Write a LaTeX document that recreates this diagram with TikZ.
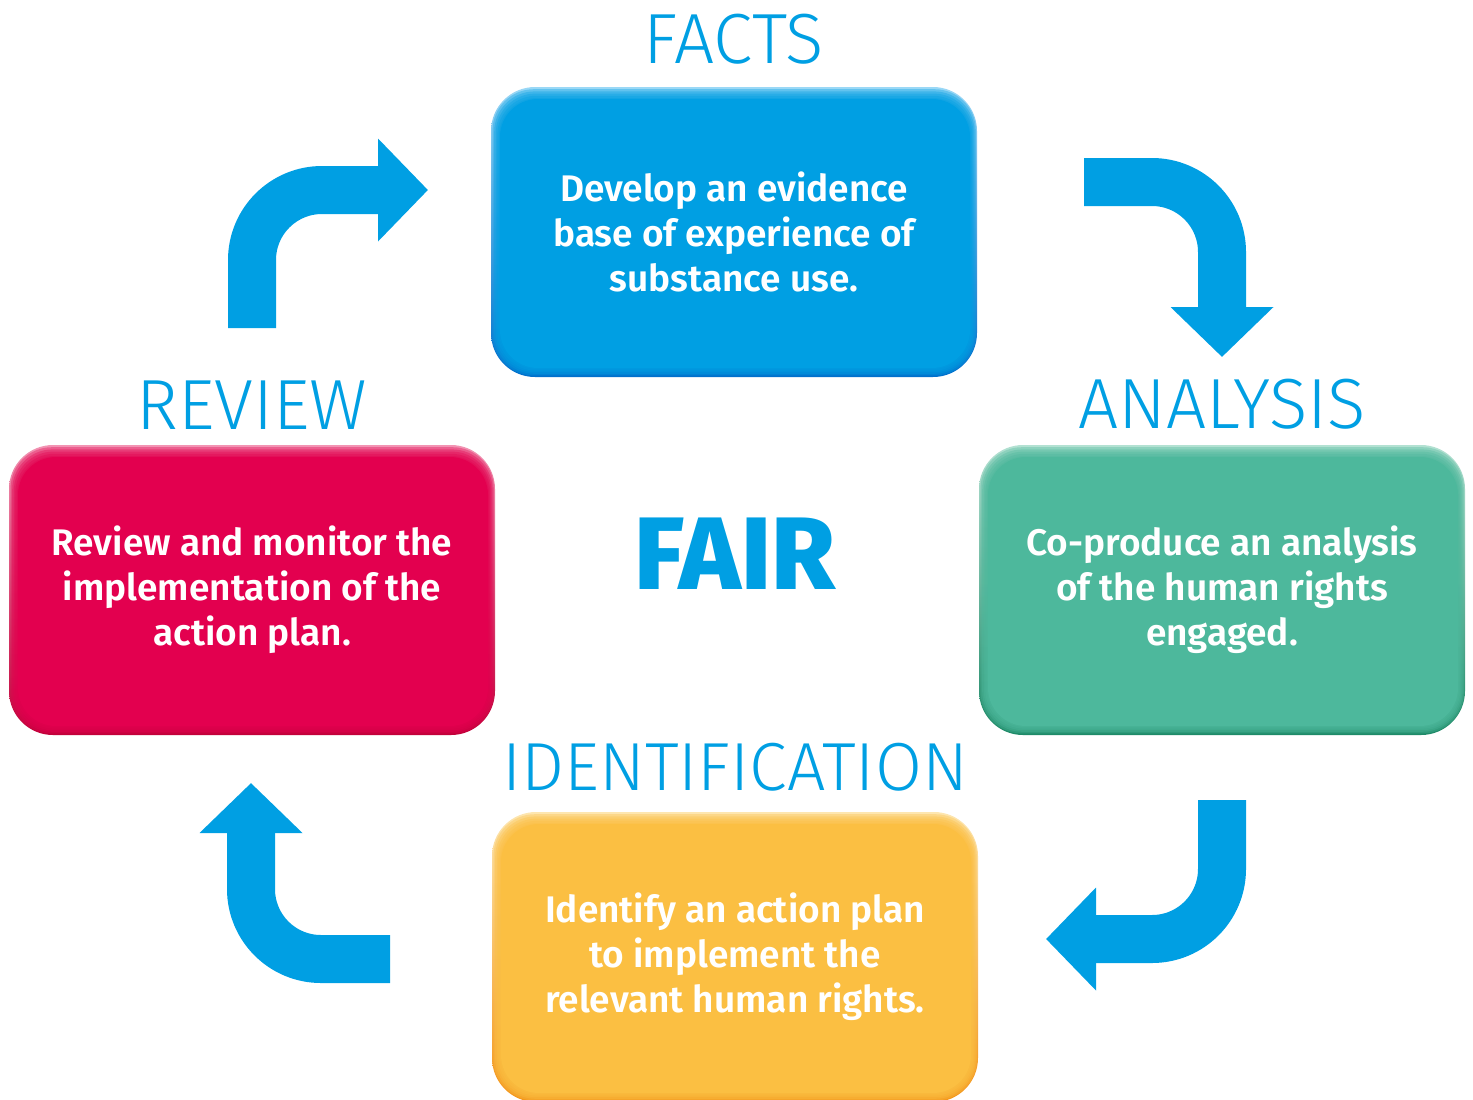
\documentclass[tikz,border=0pt]{standalone}
\usepackage{fontspec}
\setmainfont{Fira Sans}
\newfontfamily\lightfont{Fira Sans Light}
\newfontfamily\semifont{Fira Sans SemiBold}
\newfontfamily\heavyfont{Fira Sans ExtraBold}
\usepackage{tikz}
\usetikzlibrary{arrows.meta,positioning}
\definecolor{Blue}{HTML}{009FE3}
\definecolor{BlueLight}{HTML}{9AD8F6}
\definecolor{BlueDark}{HTML}{0070CC}
\definecolor{Red}{HTML}{E3004F}
\definecolor{RedLight}{HTML}{F294B3}
\definecolor{RedDark}{HTML}{C2003A}
\definecolor{Green}{HTML}{4DB89C}
\definecolor{GreenLight}{HTML}{B3E1D2}
\definecolor{GreenDark}{HTML}{1E8A68}
\definecolor{Yellow}{HTML}{FBBF42}
\definecolor{YellowLight}{HTML}{FDE6B0}
\definecolor{YellowDark}{HTML}{F3961A}
\tikzset{card/.style={rounded corners=22pt,minimum width=243pt,minimum height=145pt,align=center,text=white,font=\semifont\fontsize{18.5}{22.5}\selectfont,top color=#1Light,middle color=#1,bottom color=#1Dark,path picture={\foreach \d in {1,...,5}{\fill[#1,opacity=.35,rounded corners=21pt-\d*0.4pt]([xshift=\d*0.8pt,yshift=-\d*1.1pt]path picture bounding box.north west) rectangle ([xshift=-\d*0.6pt,yshift=\d*0.8pt]path picture bounding box.south east);}\fill[#1,rounded corners=19pt]([xshift=4.5pt,yshift=-6pt]path picture bounding box.north west) rectangle ([xshift=-3.5pt,yshift=4.5pt]path picture bounding box.south east);}},title/.style={font=\lightfont\fontsize{35.5}{35.5}\selectfont,text=Blue,inner sep=0pt},turn/.style={line width=24pt,draw=Blue,rounded corners=35pt,-{Triangle[length=25pt,width=50pt]}}}

\begin{document}
\begin{tikzpicture}[x=0.5pt,y=-0.5pt]
  \useasboundingbox (0,0) rectangle (1473,1099);
  \node[card=Blue](facts) at (734,232){Develop an evidence\\base of experience of\\substance use.};
  \node[card=Red](review) at (252,590){Review and monitor the\\implementation of the\\action plan.};
  \node[card=Green](analysis) at (1222,590){Co-produce an analysis\\of the human rights\\engaged.};
  \node[card=Yellow](ident) at (735,957){Identify an action plan\\to implement the\\relevant human rights.};
  \node[title,above=11pt of facts](t-facts){FACTS};
  \node[title,above=7.5pt of review](t-review){REVIEW};
  \node[title,above=7.5pt of analysis](t-analysis){ANALYSIS};
  \node[title,above=10pt of ident,font=\lightfont\fontsize{34}{34}\selectfont](t-ident){IDENTIFICATION};
  \node[font=\heavyfont\fontsize{51.5}{51.5}\selectfont,text=Blue](fair) at (735,554){FAIR};
  % bent arrows between the stages
  \coordinate (r-out) at (252,328); \coordinate (f-in) at (428,190);
  \coordinate (f-out) at (1084,182); \coordinate (a-in) at (1222,357);
  \coordinate (a-out) at (1222,800); \coordinate (i-in) at (1046,939);
  \coordinate (i-out) at (390,959); \coordinate (r-in) at (251,783);
  \draw[turn](r-out)|-(f-in);
  \draw[turn](f-out)-|(a-in);
  \draw[turn](a-out)|-(i-in);
  \draw[turn](i-out)-|(r-in);
\end{tikzpicture}
\end{document}
